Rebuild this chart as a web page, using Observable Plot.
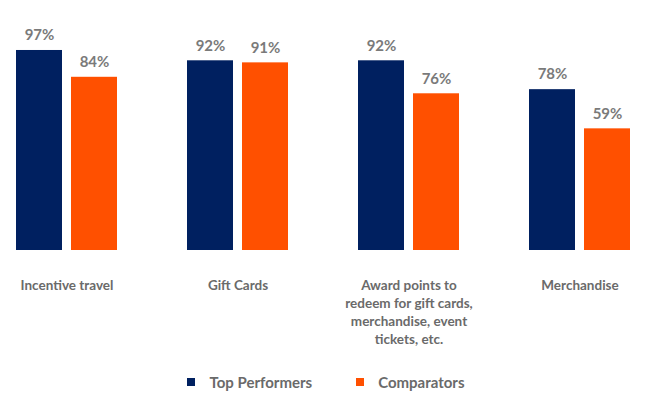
<!DOCTYPE html>
<html>
<head>
<meta charset="utf-8">
<script src="https://cdn.jsdelivr.net/npm/d3@7"></script>
<script src="https://cdn.jsdelivr.net/npm/@observablehq/plot@0.6"></script>
<style>
  html, body { margin: 0; padding: 0; background: #fff; }
  #chart { width: 652px; font-family: Lato, "Open Sans", sans-serif; }
  .legend { display: flex; justify-content: center; align-items: center; height: 33px;
            font: bold 15px Lato, sans-serif; color: #6a6a6a; }
  .legend .item { display: flex; align-items: center; }
  .legend .sw { width: 8px; height: 8px; margin-right: 14px; }
  .legend .item + .item { margin-left: 44px; }
</style>
</head>
<body>
<div id="chart"></div>
<script>
const categories = ["Incentive travel", "Gift Cards", "Award points to redeem for gift cards, merchandise, event tickets, etc.", "Merchandise"];
const categoryLabels = ["Incentive travel", "Gift Cards", "Award points to\nredeem for gift cards,\nmerchandise, event\ntickets, etc.", "Merchandise"];
const series = ["Top Performers", "Comparators"];
const topPerformers = [97, 92, 92, 78];
const comparators = [84, 91, 76, 59];
const colors = ["#002060", "#FF5000"];

const data = [];
categories.forEach((c, i) => {
  data.push({category: c, series: series[0], value: topPerformers[i]});
  data.push({category: c, series: series[1], value: comparators[i]});
});
const labelOf = new Map(categories.map((c, i) => [c, categoryLabels[i]]));

const plot = Plot.plot({
  width: 652,
  height: 365,
  marginLeft: 14,
  marginRight: 20,
  marginTop: 43.8,
  marginBottom: 115,
  style: {fontFamily: "Lato, sans-serif", background: "#fff"},
  fx: {domain: categories, paddingInner: 0.4, paddingOuter: 0},
  x: {domain: series, paddingInner: 0.16, paddingOuter: 0, axis: null},
  y: {domain: [0, 100], axis: null},
  color: {domain: series, range: colors},
  marks: [
    Plot.barY(data, {fx: "category", x: "series", y: "value", fill: "series"}),
    Plot.text(data, {fx: "category", x: "series", y: "value", text: d => d.value + "%",
      dy: -15, fontSize: 15, fontWeight: "bold", fill: "#7a7a7a"}),
    Plot.axisFx({anchor: "bottom", tickSize: 0, tickPadding: 27, tickFormat: d => labelOf.get(d),
      fontSize: 13.5, fontWeight: "bold", fill: "#6a6a6a", lineHeight: 1.33, label: null})
  ]
});
document.getElementById("chart").appendChild(plot);

const legend = document.createElement("div");
legend.className = "legend";
series.forEach((s, i) => {
  const item = document.createElement("div");
  item.className = "item";
  const sw = document.createElement("span");
  sw.className = "sw";
  sw.style.background = colors[i];
  const t = document.createElement("span");
  t.textContent = s;
  item.appendChild(sw); item.appendChild(t);
  legend.appendChild(item);
});
document.getElementById("chart").appendChild(legend);
</script>
</body>
</html>
